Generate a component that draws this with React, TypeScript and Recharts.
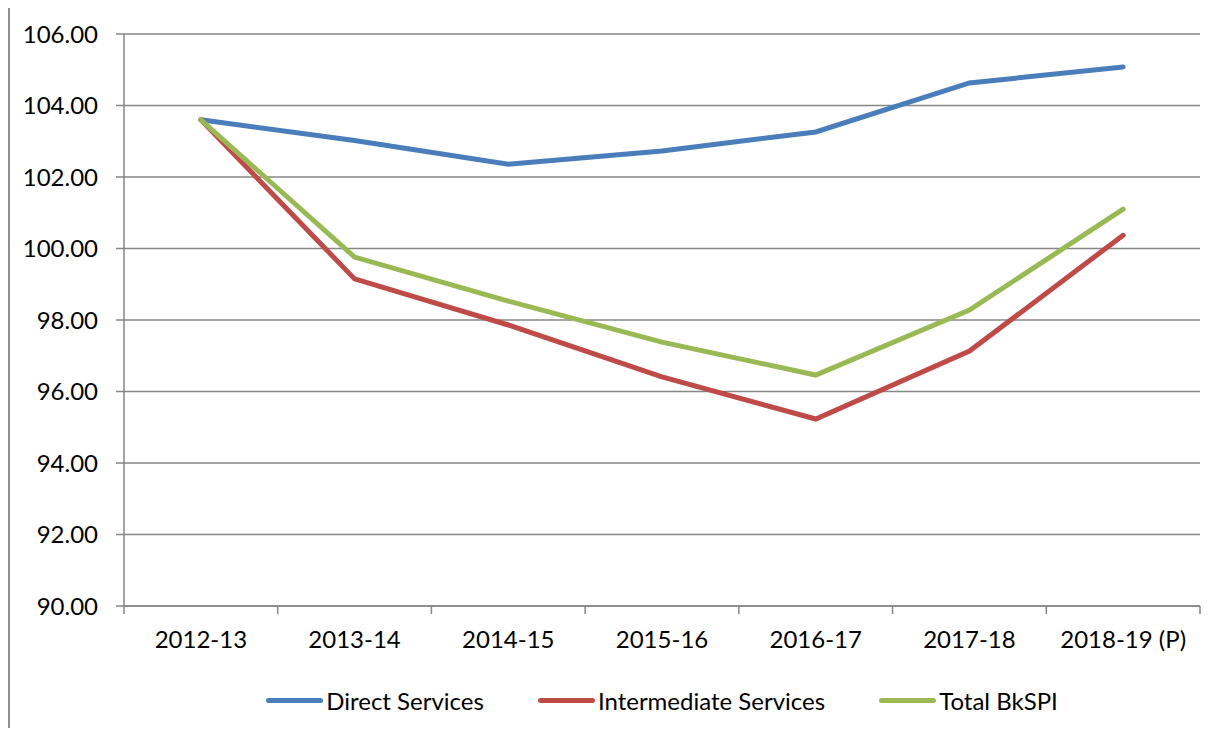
import React from 'react';
import { LineChart, Line, XAxis, YAxis, CartesianGrid, Legend } from 'recharts';

const categories = ['2012-13', '2013-14', '2014-15', '2015-16', '2016-17', '2017-18', '2018-19 (P)'];
const directServices = [103.6, 103.02, 102.36, 102.73, 103.26, 104.63, 105.08];
const intermediateServices = [103.6, 99.15, 97.86, 96.41, 95.23, 97.13, 100.37];
const totalBkSPI = [103.6, 99.76, 98.53, 97.38, 96.46, 98.28, 101.1];
const yTicks = [90, 92, 94, 96, 98, 100, 102, 104, 106];

const data = categories.map((c, i) => ({
  name: c,
  direct: directServices[i],
  intermediate: intermediateServices[i],
  total: totalBkSPI[i],
}));

const FONT = "Lato, 'Liberation Sans', sans-serif";
const AXIS = '#868686';
const PLOT_W = 1076;
const STEP = PLOT_W / categories.length;

function XTick(props: any) {
  const { x, y, payload, index } = props;
  const last = index === categories.length - 1;
  return (
    <g>
      <line x1={x - STEP / 2} y1={y} x2={x - STEP / 2} y2={y + 8} stroke={AXIS} strokeWidth={1.5} />
      {last && <line x1={x + STEP / 2} y1={y} x2={x + STEP / 2} y2={y + 8} stroke={AXIS} strokeWidth={1.5} />}
      <text x={x} y={y + 42} textAnchor="middle" fill="#000" fontSize={24} fontFamily={FONT}>
        {payload.value}
      </text>
    </g>
  );
}

function LegendContent(props: any) {
  const { payload } = props;
  return (
    <div style={{ display: 'flex', justifyContent: 'center', paddingLeft: 114, fontFamily: FONT, fontSize: 24, color: '#000' }}>
      {payload.map((p: any, i: number) => (
        <div key={p.value} style={{ display: 'flex', alignItems: 'center', marginLeft: i === 0 ? 0 : 54 }}>
          <div style={{ width: 57, height: 5, borderRadius: 3, background: p.color, marginRight: 3 }} />
          <span>{p.value}</span>
        </div>
      ))}
    </div>
  );
}

export default function App() {
  return (
    <div
      style={{
        marginTop: -3,
        width: 1204,
        height: 721,
        borderLeft: '2px solid #8f8f8f',
        borderTop: '2px solid #8f8f8f',
        background: '#fff',
        fontFamily: FONT,
      }}
    >
      <LineChart width={1204} height={721} data={data} margin={{ top: 27, right: 14, bottom: 2, left: 0 }}>
        <CartesianGrid vertical={false} stroke={AXIS} strokeWidth={1.5} />
        <XAxis
          dataKey="name"
          height={80}
          padding={{ left: STEP / 2, right: STEP / 2 }}
          axisLine={{ stroke: AXIS, strokeWidth: 1.5 }}
          tickLine={false}
          tickSize={0}
          tickMargin={0}
          interval={0}
          tick={<XTick />}
        />
        <YAxis
          type="number"
          domain={[90, 106]}
          ticks={yTicks}
          interval={0}
          width={114}
          axisLine={{ stroke: AXIS, strokeWidth: 1.5 }}
          tickLine={{ stroke: AXIS, strokeWidth: 1.5 }}
          tickSize={8}
          tickMargin={18}
          tickFormatter={(v: number) => v.toFixed(2)}
          tick={{ fill: '#000', fontSize: 24, fontFamily: FONT }}
        />
        <Legend verticalAlign="bottom" height={40} content={<LegendContent />} />
        <Line dataKey="direct" name="Direct Services" stroke="#4A7EBB" strokeWidth={5} strokeLinecap="round" dot={false} isAnimationActive={false} />
        <Line dataKey="intermediate" name="Intermediate Services" stroke="#BE4B48" strokeWidth={5} strokeLinecap="round" dot={false} isAnimationActive={false} />
        <Line dataKey="total" name="Total BkSPI" stroke="#98B954" strokeWidth={5} strokeLinecap="round" dot={false} isAnimationActive={false} />
      </LineChart>
    </div>
  );
}
